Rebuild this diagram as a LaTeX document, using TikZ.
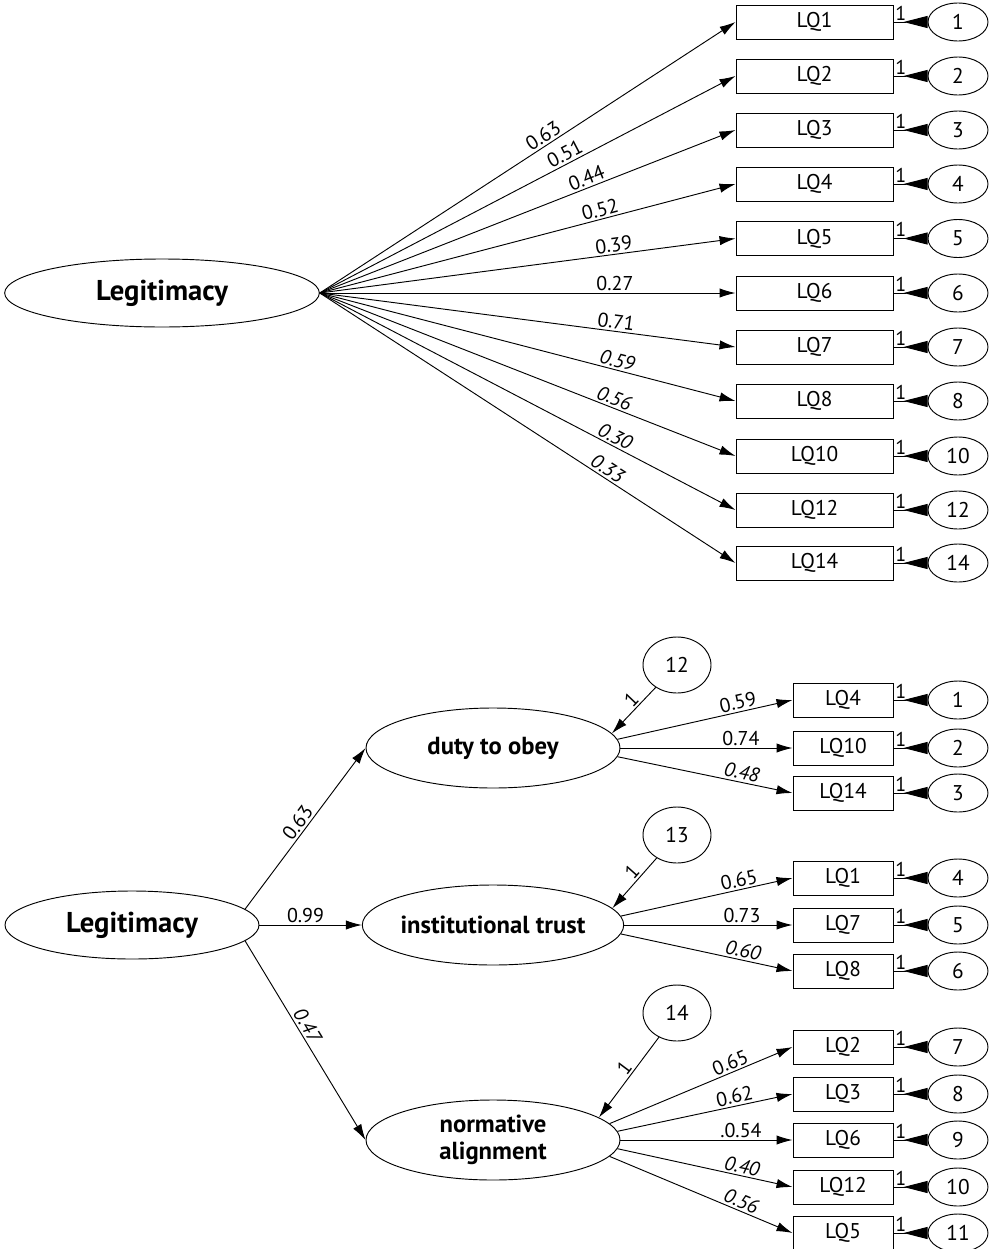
\documentclass[tikz,border=0pt]{standalone}
\usepackage{fontspec}
\setmainfont{PT Sans}
\usetikzlibrary{shapes.geometric,arrows.meta}

\begin{document}
\begin{tikzpicture}[x=0.75pt, y=-0.75pt, line width=0.7pt,
    factor/.style={draw, ellipse, inner sep=0pt, minimum height=51pt, font=\fontsize{21.5}{23}\selectfont\bfseries},
    latent/.style={draw, ellipse, inner sep=0pt, minimum width=190.5pt, minimum height=60pt, align=center, font=\fontsize{18.5}{20}\selectfont\bfseries},
    item/.style={draw, rectangle, inner sep=0pt, minimum height=25.5pt, font=\fontsize{16}{18}\selectfont},
    err/.style={draw, ellipse, inner sep=0pt, minimum width=45pt, minimum height=28.5pt, font=\fontsize{16}{18}\selectfont},
    dist/.style={draw, ellipse, inner sep=0pt, minimum width=51pt, minimum height=42pt, font=\fontsize{16}{18}\selectfont},
    path/.style={-{Latex[length=12pt, width=7pt]}},
    errpath/.style={-{Triangle[reversed, length=18pt, width=9pt]}},
    lbl/.style={sloped, above, inner sep=1.5pt, font=\fontsize{15}{17}\selectfont},
    one/.style={anchor=south west, inner sep=1pt, font=\fontsize{15}{17}\selectfont}]
  \useasboundingbox (0,0) rectangle (992,1249);

  % first-order model
  \node[factor, minimum width=236pt] (legA) at (162,293) {Legitimacy};
  \node[item, minimum width=117.75pt] (a1) at (814.5,22) {LQ1};
  \node[item, minimum width=117.75pt] (a2) at (814.5,76) {LQ2};
  \node[item, minimum width=117.75pt] (a3) at (814.5,130) {LQ3};
  \node[item, minimum width=117.75pt] (a4) at (814.5,184) {LQ4};
  \node[item, minimum width=117.75pt] (a5) at (814.5,238.5) {LQ5};
  \node[item, minimum width=117.75pt] (a6) at (814.5,293) {LQ6};
  \node[item, minimum width=117.75pt] (a7) at (814.5,347) {LQ7};
  \node[item, minimum width=117.75pt] (a8) at (814.5,401) {LQ8};
  \node[item, minimum width=117.75pt] (a10) at (814.5,456) {LQ10};
  \node[item, minimum width=117.75pt] (a12) at (814.5,510) {LQ12};
  \node[item, minimum width=117.75pt] (a14) at (814.5,563) {LQ14};
  \draw[path] (legA.east) -- node[lbl, pos=.55] {0.63} (a1.west);
  \draw[path] (legA.east) -- node[lbl, pos=.6] {0.51} (a2.west);
  \draw[path] (legA.east) -- node[lbl, pos=.65] {0.44} (a3.west);
  \draw[path] (legA.east) -- node[lbl, pos=.68] {0.52} (a4.west);
  \draw[path] (legA.east) -- node[lbl, pos=.71] {0.39} (a5.west);
  \draw[path] (legA.east) -- node[lbl, pos=.71] {0.27} (a6.west);
  \draw[path] (legA.east) -- node[lbl, pos=.71] {0.71} (a7.west);
  \draw[path] (legA.east) -- node[lbl, pos=.71] {\itshape 0.59} (a8.west);
  \draw[path] (legA.east) -- node[lbl, pos=.7] {\itshape 0.56} (a10.west);
  \draw[path] (legA.east) -- node[lbl, pos=.7] {\itshape 0.30} (a12.west);
  \draw[path] (legA.east) -- node[lbl, pos=.68] {\itshape 0.33} (a14.west);
  % error terms
  \node[err] (ea1) at (958,22) {1};
  \node[err] (ea2) at (958,76) {2};
  \node[err] (ea3) at (958,130) {3};
  \node[err] (ea4) at (958,184) {4};
  \node[err] (ea5) at (958,238.5) {5};
  \node[err] (ea6) at (958,293) {6};
  \node[err] (ea7) at (958,347) {7};
  \node[err] (ea8) at (958,401) {8};
  \node[err] (ea10) at (958,456) {10};
  \node[err] (ea12) at (958,510) {12};
  \node[err] (ea14) at (958,563) {14};
  \draw[errpath] (a1.east) -- node[one, pos=0] {1} (ea1);
  \draw[errpath] (a2.east) -- node[one, pos=0] {1} (ea2);
  \draw[errpath] (a3.east) -- node[one, pos=0] {1} (ea3);
  \draw[errpath] (a4.east) -- node[one, pos=0] {1} (ea4);
  \draw[errpath] (a5.east) -- node[one, pos=0] {1} (ea5);
  \draw[errpath] (a6.east) -- node[one, pos=0] {1} (ea6);
  \draw[errpath] (a7.east) -- node[one, pos=0] {1} (ea7);
  \draw[errpath] (a8.east) -- node[one, pos=0] {1} (ea8);
  \draw[errpath] (a10.east) -- node[one, pos=0] {1} (ea10);
  \draw[errpath] (a12.east) -- node[one, pos=0] {1} (ea12);
  \draw[errpath] (a14.east) -- node[one, pos=0] {1} (ea14);

  % second-order model
  \node[factor, minimum width=190.5pt] (legB) at (132,925) {Legitimacy};
  \node[latent] (duty) at (493,748) {duty to obey};
  \node[latent] (trust) at (493,925) {institutional trust};
  \node[latent] (norm) at (493,1140) {normative\\alignment};
  \draw[path] (legB.8) -- node[lbl, pos=.5] {0.63} (duty.west);
  \draw[path] (legB.east) -- node[lbl, pos=.45] {0.99} (trust.west);
  \draw[path] (legB.-8) -- node[lbl, pos=.45] {\itshape 0.47} (norm.west);
  % disturbances
  \node[dist] (d12) at (677,665) {12};
  \node[dist] (d13) at (677,835) {13};
  \node[dist] (d14) at (677,1013) {14};
  \draw[path] (d12) -- node[lbl, pos=.4] {1} (duty.7);
  \draw[path] (d13) -- node[lbl, pos=.4] {1} (trust.8);
  \draw[path] (d14) -- node[lbl, pos=.45] {1} (norm.12);
  % indicators
  \node[item, minimum width=75pt] (b4) at (843,700) {LQ4};
  \node[item, minimum width=75pt] (b10) at (843,748) {LQ10};
  \node[item, minimum width=75pt] (b14) at (843,793) {LQ14};
  \node[item, minimum width=75pt] (b1) at (843,878) {LQ1};
  \node[item, minimum width=75pt] (b7) at (843,925) {LQ7};
  \node[item, minimum width=75pt] (b8) at (843,971) {LQ8};
  \node[item, minimum width=75pt] (b2) at (843,1047) {LQ2};
  \node[item, minimum width=75pt] (b3) at (843,1094) {LQ3};
  \node[item, minimum width=75pt] (b6) at (843,1140) {LQ6};
  \node[item, minimum width=75pt] (b12) at (843,1187) {LQ12};
  \node[item, minimum width=75pt] (b5) at (843,1233) {LQ5};
  \draw[path] (duty.4) -- node[lbl, pos=.7] {0.59} (b4.west);
  \draw[path] (duty.east) -- node[lbl, pos=.7] {0.74} (b10.west);
  \draw[path] (duty.-4) -- node[lbl, pos=.7] {\itshape 0.48} (b14.west);
  \draw[path] (trust.4) -- node[lbl, pos=.7] {0.65} (b1.west);
  \draw[path] (trust.east) -- node[lbl, pos=.7] {0.73} (b7.west);
  \draw[path] (trust.-4) -- node[lbl, pos=.7] {\itshape 0.60} (b8.west);
  \draw[path] (norm.8) -- node[lbl, pos=.68] {0.65} (b2.west);
  \draw[path] (norm.4) -- node[lbl, pos=.68] {0.62} (b3.west);
  \draw[path] (norm.east) -- node[lbl, pos=.7] {.0.54} (b6.west);
  \draw[path] (norm.-4) -- node[lbl, pos=.7] {\itshape 0.40} (b12.west);
  \draw[path] (norm.-8) -- node[lbl, pos=.7] {\itshape 0.56} (b5.west);
  % error terms
  \node[err] (eb1) at (958,700) {1};
  \node[err] (eb2) at (958,748) {2};
  \node[err] (eb3) at (958,793) {3};
  \node[err] (eb4) at (958,878) {4};
  \node[err] (eb5) at (958,925) {5};
  \node[err] (eb6) at (958,971) {6};
  \node[err] (eb7) at (958,1047) {7};
  \node[err] (eb8) at (958,1094) {8};
  \node[err] (eb9) at (958,1140) {9};
  \node[err] (eb10) at (958,1187) {10};
  \node[err] (eb11) at (958,1233) {11};
  \draw[errpath] (b4.east) -- node[one, pos=0] {1} (eb1);
  \draw[errpath] (b10.east) -- node[one, pos=0] {1} (eb2);
  \draw[errpath] (b14.east) -- node[one, pos=0] {1} (eb3);
  \draw[errpath] (b1.east) -- node[one, pos=0] {1} (eb4);
  \draw[errpath] (b7.east) -- node[one, pos=0] {1} (eb5);
  \draw[errpath] (b8.east) -- node[one, pos=0] {1} (eb6);
  \draw[errpath] (b2.east) -- node[one, pos=0] {1} (eb7);
  \draw[errpath] (b3.east) -- node[one, pos=0] {1} (eb8);
  \draw[errpath] (b6.east) -- node[one, pos=0] {1} (eb9);
  \draw[errpath] (b12.east) -- node[one, pos=0] {1} (eb10);
  \draw[errpath] (b5.east) -- node[one, pos=0] {1} (eb11);
\end{tikzpicture}
\end{document}
